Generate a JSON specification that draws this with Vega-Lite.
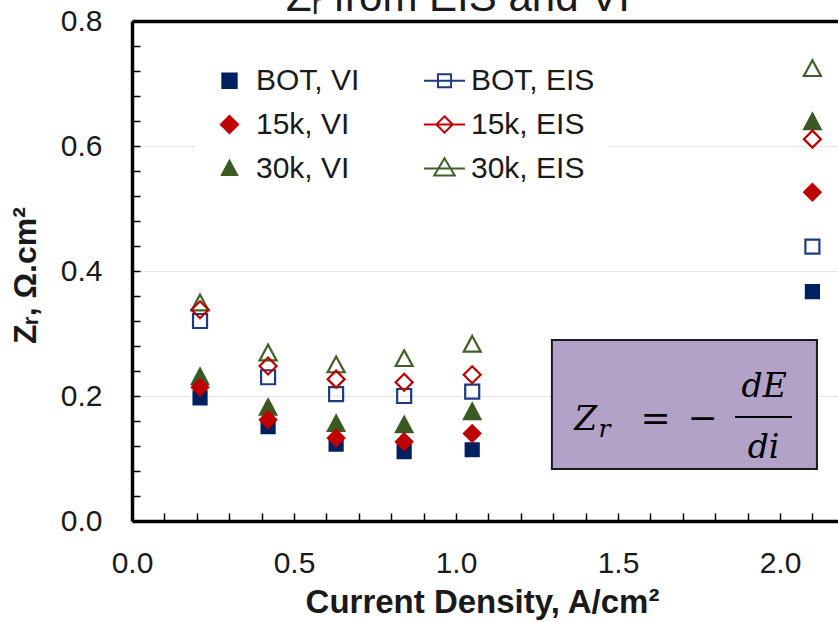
{
  "$schema": "https://vega.github.io/schema/vega-lite/v6.json",
  "width": 706,
  "height": 500,
  "autosize": {"type": "none"},
  "padding": {"left": 132, "top": 21, "right": 0, "bottom": 101},
  "background": "white",
  "config": {
    "view": {"stroke": null},
    "legend": {
      "orient": "none",
      "legendX": 63,
      "legendY": 25,
      "columns": 2,
      "columnPadding": 60,
      "rowPadding": 7,
      "padding": 13,
      "fillColor": "white",
      "symbolSize": 1681,
      "symbolStrokeWidth": 2,
      "symbolOpacity": 1,
      "labelFont": "Liberation Sans",
      "labelFontSize": 30,
      "labelColor": "#1a1a1a",
      "labelOffset": 5,
      "labelLimit": 300
    }
  },
  "datasets": {
    "zr": [
      {"j": 0.21, "zr": 0.197, "series": "BOT, VI"},
      {"j": 0.42, "zr": 0.151, "series": "BOT, VI"},
      {"j": 0.63, "zr": 0.123, "series": "BOT, VI"},
      {"j": 0.84, "zr": 0.111, "series": "BOT, VI"},
      {"j": 1.05, "zr": 0.114, "series": "BOT, VI"},
      {"j": 2.1, "zr": 0.367, "series": "BOT, VI"},
      {"j": 0.21, "zr": 0.231, "series": "30k, VI"},
      {"j": 0.42, "zr": 0.182, "series": "30k, VI"},
      {"j": 0.63, "zr": 0.156, "series": "30k, VI"},
      {"j": 0.84, "zr": 0.154, "series": "30k, VI"},
      {"j": 1.05, "zr": 0.175, "series": "30k, VI"},
      {"j": 2.1, "zr": 0.639, "series": "30k, VI"},
      {"j": 0.21, "zr": 0.214, "series": "15k, VI"},
      {"j": 0.42, "zr": 0.162, "series": "15k, VI"},
      {"j": 0.63, "zr": 0.133, "series": "15k, VI"},
      {"j": 0.84, "zr": 0.127, "series": "15k, VI"},
      {"j": 1.05, "zr": 0.14, "series": "15k, VI"},
      {"j": 2.1, "zr": 0.526, "series": "15k, VI"},
      {"j": 0.21, "zr": 0.32, "series": "BOT, EIS"},
      {"j": 0.42, "zr": 0.23, "series": "BOT, EIS"},
      {"j": 0.63, "zr": 0.203, "series": "BOT, EIS"},
      {"j": 0.84, "zr": 0.2, "series": "BOT, EIS"},
      {"j": 1.05, "zr": 0.207, "series": "BOT, EIS"},
      {"j": 2.1, "zr": 0.439, "series": "BOT, EIS"},
      {"j": 0.21, "zr": 0.349, "series": "30k, EIS"},
      {"j": 0.42, "zr": 0.269, "series": "30k, EIS"},
      {"j": 0.63, "zr": 0.25, "series": "30k, EIS"},
      {"j": 0.84, "zr": 0.26, "series": "30k, EIS"},
      {"j": 1.05, "zr": 0.283, "series": "30k, EIS"},
      {"j": 2.1, "zr": 0.724, "series": "30k, EIS"},
      {"j": 0.21, "zr": 0.338, "series": "15k, EIS"},
      {"j": 0.42, "zr": 0.248, "series": "15k, EIS"},
      {"j": 0.63, "zr": 0.227, "series": "15k, EIS"},
      {"j": 0.84, "zr": 0.222, "series": "15k, EIS"},
      {"j": 1.05, "zr": 0.234, "series": "15k, EIS"},
      {"j": 2.1, "zr": 0.611, "series": "15k, EIS"}
    ]
  },
  "layer": [
    {
      "data": {"name": "zr"},
      "mark": {"type": "point", "size": 400, "strokeWidth": 2.2, "opacity": 1},
      "encoding": {
        "x": {
          "field": "j",
          "type": "quantitative",
          "scale": {"domain": [0, 2.179], "nice": false, "zero": false},
          "axis": {
            "title": "Current Density, A/cm²",
            "values": [0, 0.1, 0.2, 0.3, 0.4, 0.5, 0.6, 0.7, 0.8, 0.9, 1, 1.1, 1.2, 1.3, 1.4, 1.5, 1.6, 1.7, 1.8, 1.9, 2, 2.1],
            "tickCount": 100,
            "labelExpr": "abs(datum.value * 2 - round(datum.value * 2)) < 1e-6 ? format(datum.value, '.1f') : ''",
            "grid": false,
            "domainColor": "black",
            "domainWidth": 3.5,
            "tickColor": "black",
            "tickWidth": 1.5,
            "tickSize": -8,
            "labelPadding": 35,
            "labelFont": "Liberation Sans",
            "labelFontSize": 30,
            "labelColor": "#1a1a1a",
            "labelFlush": false,
            "labelOverlap": false,
            "titleFont": "Liberation Sans",
            "titleFontWeight": "bold",
            "titleFontSize": 33,
            "titleColor": "#1a1a1a",
            "titleX": 350,
            "titleY": 91,
            "titleBaseline": "alphabetic"
          }
        },
        "y": {
          "field": "zr",
          "type": "quantitative",
          "scale": {"domain": [0, 0.8], "nice": false},
          "axis": {
            "title": "Zᵣ, Ω.cm²",
            "values": [0, 0.04, 0.08, 0.12, 0.16, 0.2, 0.24, 0.28, 0.32, 0.36, 0.4, 0.44, 0.48, 0.52, 0.56, 0.6, 0.64, 0.68, 0.72, 0.76, 0.8],
            "tickCount": 100,
            "labelExpr": "abs(datum.value * 5 - round(datum.value * 5)) < 1e-6 ? format(datum.value, '.1f') : ''",
            "domainColor": "black",
            "domainWidth": 3.5,
            "tickColor": "black",
            "tickWidth": 1.5,
            "tickSize": -8,
            "labelPadding": 38,
            "labelFont": "Liberation Sans",
            "labelFontSize": 30,
            "labelColor": "#1a1a1a",
            "labelFlush": false,
            "labelOverlap": false,
            "grid": true,
            "gridColor": {"condition": {"test": "datum.value > 0.79", "value": "black"}, "value": "#cfcfcf"},
            "gridDash": {"condition": {"test": "datum.value > 0.79", "value": []}, "value": [2, 2]},
            "gridWidth": {"condition": {"test": "datum.value > 0.79", "value": 3.5}, "value": 1},
            "gridOpacity": {"condition": {"test": "abs(datum.value * 5 - round(datum.value * 5)) < 1e-6 && datum.value > 0.01", "value": 1}, "value": 0},
            "titleFont": "Liberation Sans",
            "titleFontWeight": "bold",
            "titleFontSize": 32,
            "titleColor": "#1a1a1a",
            "titleAngle": -90,
            "titleX": -97,
            "titleY": 254,
            "titleBaseline": "alphabetic"
          }
        },
        "shape": {
          "field": "series",
          "type": "nominal",
          "scale": {
            "domain": ["BOT, EIS", "15k, EIS", "30k, EIS", "BOT, VI", "15k, VI", "30k, VI"],
            "range": [
              "M-0.7,-0.7H0.7V0.7H-0.7Z",
              "M0,-0.85L0.85,0L0,0.85L-0.85,0Z",
              "M0,-0.82L0.85,0.75L-0.85,0.75Z",
              "M-0.65,-0.65H0.65V0.65H-0.65Z",
              "M0,-0.82L0.82,0L0,0.82L-0.82,0Z",
              "M0,-0.8L0.82,0.75L-0.82,0.75Z"
            ]
          },
          "legend": null
        },
        "fill": {
          "field": "series",
          "type": "nominal",
          "scale": {
            "domain": ["BOT, VI", "15k, VI", "30k, VI", "BOT, EIS", "15k, EIS", "30k, EIS"],
            "range": ["#002060", "#c00000", "#3b5a23", "transparent", "transparent", "transparent"]
          },
          "legend": {
            "title": null,
            "encode": {
              "symbols": {
                "update": {
                  "shape": {"signal": "datum.value === 'BOT, VI' ? 'M-0.35,-0.35H0.35V0.35H-0.35Z' : datum.value === 'BOT, EIS' ? 'M-1,0H1M-0.32,-0.32H0.32V0.32H-0.32Z' : datum.value === '15k, VI' ? 'M0,-0.42L0.42,0L0,0.42L-0.42,0Z' : datum.value === '15k, EIS' ? 'M-1,0H1M0,-0.4L0.4,0L0,0.4L-0.4,0Z' : datum.value === '30k, VI' ? 'M0,-0.38L0.37,0.32L-0.37,0.32Z' : 'M-1,0H1M0,-0.5L0.5,0.34L-0.5,0.34Z'"},
                  "strokeWidth": {"value": 2}
                }
              }
            }
          }
        },
        "stroke": {
          "field": "series",
          "type": "nominal",
          "scale": {
            "domain": ["BOT, VI", "15k, VI", "30k, VI", "BOT, EIS", "15k, EIS", "30k, EIS"],
            "range": ["#002060", "#c00000", "#3b5a23", "#1f3b7f", "#c00000", "#3f6127"]
          },
          "legend": {
            "title": null,
            "encode": {
              "symbols": {
                "update": {
                  "shape": {"signal": "datum.value === 'BOT, VI' ? 'M-0.35,-0.35H0.35V0.35H-0.35Z' : datum.value === 'BOT, EIS' ? 'M-1,0H1M-0.32,-0.32H0.32V0.32H-0.32Z' : datum.value === '15k, VI' ? 'M0,-0.42L0.42,0L0,0.42L-0.42,0Z' : datum.value === '15k, EIS' ? 'M-1,0H1M0,-0.4L0.4,0L0,0.4L-0.4,0Z' : datum.value === '30k, VI' ? 'M0,-0.38L0.37,0.32L-0.37,0.32Z' : 'M-1,0H1M0,-0.5L0.5,0.34L-0.5,0.34Z'"},
                  "strokeWidth": {"value": 2}
                }
              }
            }
          }
        }
      }
    },
    {
      "data": {"values": [{}]},
      "mark": {"type": "text", "text": "Zᵣ from EIS and VI", "font": "Liberation Sans", "fontSize": 42, "align": "center", "baseline": "alphabetic", "color": "#1a1a1a"},
      "encoding": {"x": {"datum": 1.006, "type": "quantitative"}, "y": {"datum": 0.816, "type": "quantitative"}}
    },
    {
      "data": {"values": [{}]},
      "mark": {"type": "rect", "fill": "#b3a2c7", "stroke": "#1a1a1a", "strokeWidth": 2},
      "encoding": {
        "x": {"datum": 1.296, "type": "quantitative"},
        "x2": {"datum": 2.114},
        "y": {"datum": 0.2896, "type": "quantitative"},
        "y2": {"datum": 0.0832}
      }
    },
    {
      "data": {"values": [{}]},
      "mark": {"type": "text", "text": "Z", "font": "DejaVu Serif", "fontStyle": "italic", "fontSize": 33, "align": "center", "baseline": "alphabetic", "color": "black"},
      "encoding": {"x": {"datum": 1.4, "type": "quantitative"}, "y": {"datum": 0.1456, "type": "quantitative"}}
    },
    {
      "data": {"values": [{}]},
      "mark": {"type": "text", "text": "r", "font": "DejaVu Serif", "fontStyle": "italic", "fontSize": 25, "align": "center", "baseline": "alphabetic", "color": "black"},
      "encoding": {"x": {"datum": 1.458, "type": "quantitative"}, "y": {"datum": 0.1344, "type": "quantitative"}}
    },
    {
      "data": {"values": [{}]},
      "mark": {"type": "text", "text": "=", "font": "DejaVu Serif", "fontSize": 36, "align": "center", "baseline": "alphabetic", "color": "black"},
      "encoding": {"x": {"datum": 1.616, "type": "quantitative"}, "y": {"datum": 0.146, "type": "quantitative"}}
    },
    {
      "data": {"values": [{}]},
      "mark": {"type": "text", "text": "−", "font": "DejaVu Serif", "fontSize": 36, "align": "center", "baseline": "alphabetic", "color": "black"},
      "encoding": {"x": {"datum": 1.761, "type": "quantitative"}, "y": {"datum": 0.146, "type": "quantitative"}}
    },
    {
      "data": {"values": [{}]},
      "mark": {"type": "rule", "color": "black", "strokeWidth": 2},
      "encoding": {
        "x": {"datum": 1.861, "type": "quantitative"},
        "x2": {"datum": 2.037},
        "y": {"datum": 0.1664, "type": "quantitative"}
      }
    },
    {
      "data": {"values": [{}]},
      "mark": {"type": "text", "text": "dE", "font": "DejaVu Serif", "fontStyle": "italic", "fontSize": 33, "align": "center", "baseline": "alphabetic", "color": "black"},
      "encoding": {"x": {"datum": 1.951, "type": "quantitative"}, "y": {"datum": 0.1984, "type": "quantitative"}}
    },
    {
      "data": {"values": [{}]},
      "mark": {"type": "text", "text": "di", "font": "DejaVu Serif", "fontStyle": "italic", "fontSize": 33, "align": "center", "baseline": "alphabetic", "color": "black"},
      "encoding": {"x": {"datum": 1.949, "type": "quantitative"}, "y": {"datum": 0.1008, "type": "quantitative"}}
    }
  ]
}
